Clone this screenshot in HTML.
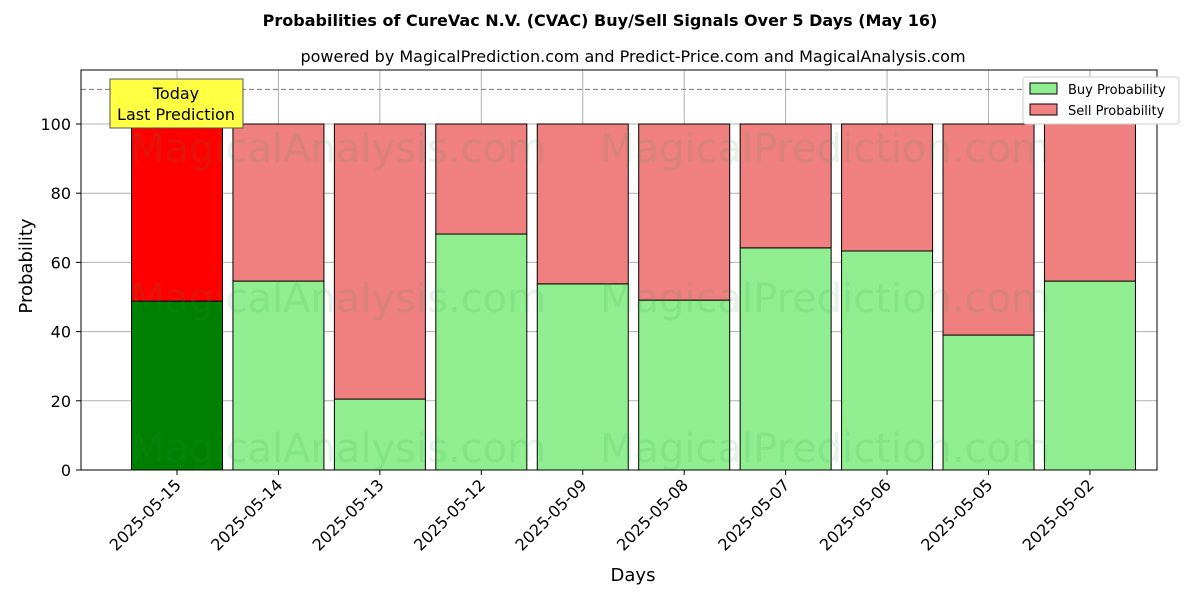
<!DOCTYPE html>
<html><head><meta charset="utf-8"><style>body{margin:0;background:#fff}svg{font-family:"DejaVu Sans","Liberation Sans",sans-serif}</style></head>
<body>
<svg id="c" width="1200" height="600" xmlns="http://www.w3.org/2000/svg">
<text x="600" y="26" text-anchor="middle" font-size="16" font-weight="bold">Probabilities of CureVac N.V. (CVAC) Buy/Sell Signals Over 5 Days (May 16)</text>
<text x="633" y="62" text-anchor="middle" font-size="16">powered by MagicalPrediction.com and Predict-Price.com and MagicalAnalysis.com</text>
<g id="grid"></g><g id="bars"></g>
<g font-size="40" fill="#2a9a4a" opacity="0.12">
<text x="130" y="162">MagicalAnalysis.com</text><text x="600" y="162">MagicalPrediction.com</text>
<text x="130" y="312">MagicalAnalysis.com</text><text x="600" y="312">MagicalPrediction.com</text>
<text x="130" y="462">MagicalAnalysis.com</text><text x="600" y="462">MagicalPrediction.com</text></g>
<rect x="81" y="70" width="1076" height="400" fill="none" stroke="#000"/>
<g id="axes"></g>
<text x="36" y="270" text-anchor="middle" font-size="18" transform="rotate(-90 32 270)">Probability</text>
<text x="633" y="581" text-anchor="middle" font-size="18">Days</text>
<g><rect x="110" y="79" width="133" height="49" fill="#ffff44" stroke="#555"/>
<text x="176" y="99" text-anchor="middle" font-size="16">Today</text><text x="176" y="120" text-anchor="middle" font-size="16">Last Prediction</text></g>
<g><rect x="1023" y="77" width="156" height="47" fill="#fff" stroke="#ccc" rx="3"/>
<rect x="1030" y="83" width="27" height="11" fill="lightgreen" stroke="#000"/><text x="1068" y="94" font-size="13">Buy Probability</text>
<rect x="1030" y="104" width="27" height="11" fill="lightcoral" stroke="#000"/><text x="1068" y="115" font-size="13">Sell Probability</text></g>
</svg>
<script>
const categories=["2025-05-15","2025-05-14","2025-05-13","2025-05-12","2025-05-09","2025-05-08","2025-05-07","2025-05-06","2025-05-05","2025-05-02"];
const buyValues=[48.8,54.6,20.5,68.2,53.8,49.1,64.2,63.3,39.0,54.6];
const yTicks=[0,20,40,60,80,100];
const ns="http://www.w3.org/2000/svg";
const y=v=>470-v*3.46, x=i=>177+i*101.44, bw=91;
function mk(t,a,p){const e=document.createElementNS(ns,t);for(const k in a)e.setAttribute(k,a[k]);p.appendChild(e);return e;}
const G=document.getElementById('grid'),B=document.getElementById('bars'),A=document.getElementById('axes');
yTicks.forEach(t=>{const l=mk('line',{x1:81,x2:1157,y1:y(t),y2:y(t),stroke:'#b0b0b0'},G);

mk('line',{x1:76,x2:81,y1:y(t),y2:y(t),stroke:'#000'},A);
const tx=mk('text',{x:71,y:y(t)+6,'text-anchor':'end','font-size':16},A);tx.textContent=t;
});
categories.forEach((c,i)=>{const l=mk('line',{x1:x(i),x2:x(i),y1:70,y2:470,stroke:'#b0b0b0'},G);

const b=buyValues[i];
const r1=mk('rect',{x:x(i)-bw/2,y:y(b),width:bw,height:y(0)-y(b),fill:i==0?'green':'lightgreen',stroke:'#000'},B);

const r2=mk('rect',{x:x(i)-bw/2,y:y(100),width:bw,height:y(b)-y(100),fill:i==0?'red':'lightcoral',stroke:'#000'},B);

mk('line',{x1:x(i),x2:x(i),y1:470,y2:475,stroke:'#000'},A);
const tx=mk('text',{x:x(i)+5,y:486,'text-anchor':'end','font-size':16,transform:`rotate(-45 ${x(i)+5} 486)`},A);tx.textContent=c;
});
const d=mk('line',{x1:81,x2:1157,y1:y(110),y2:y(110),stroke:'#777','stroke-dasharray':'5,3'},B);

</script>
</body></html>
